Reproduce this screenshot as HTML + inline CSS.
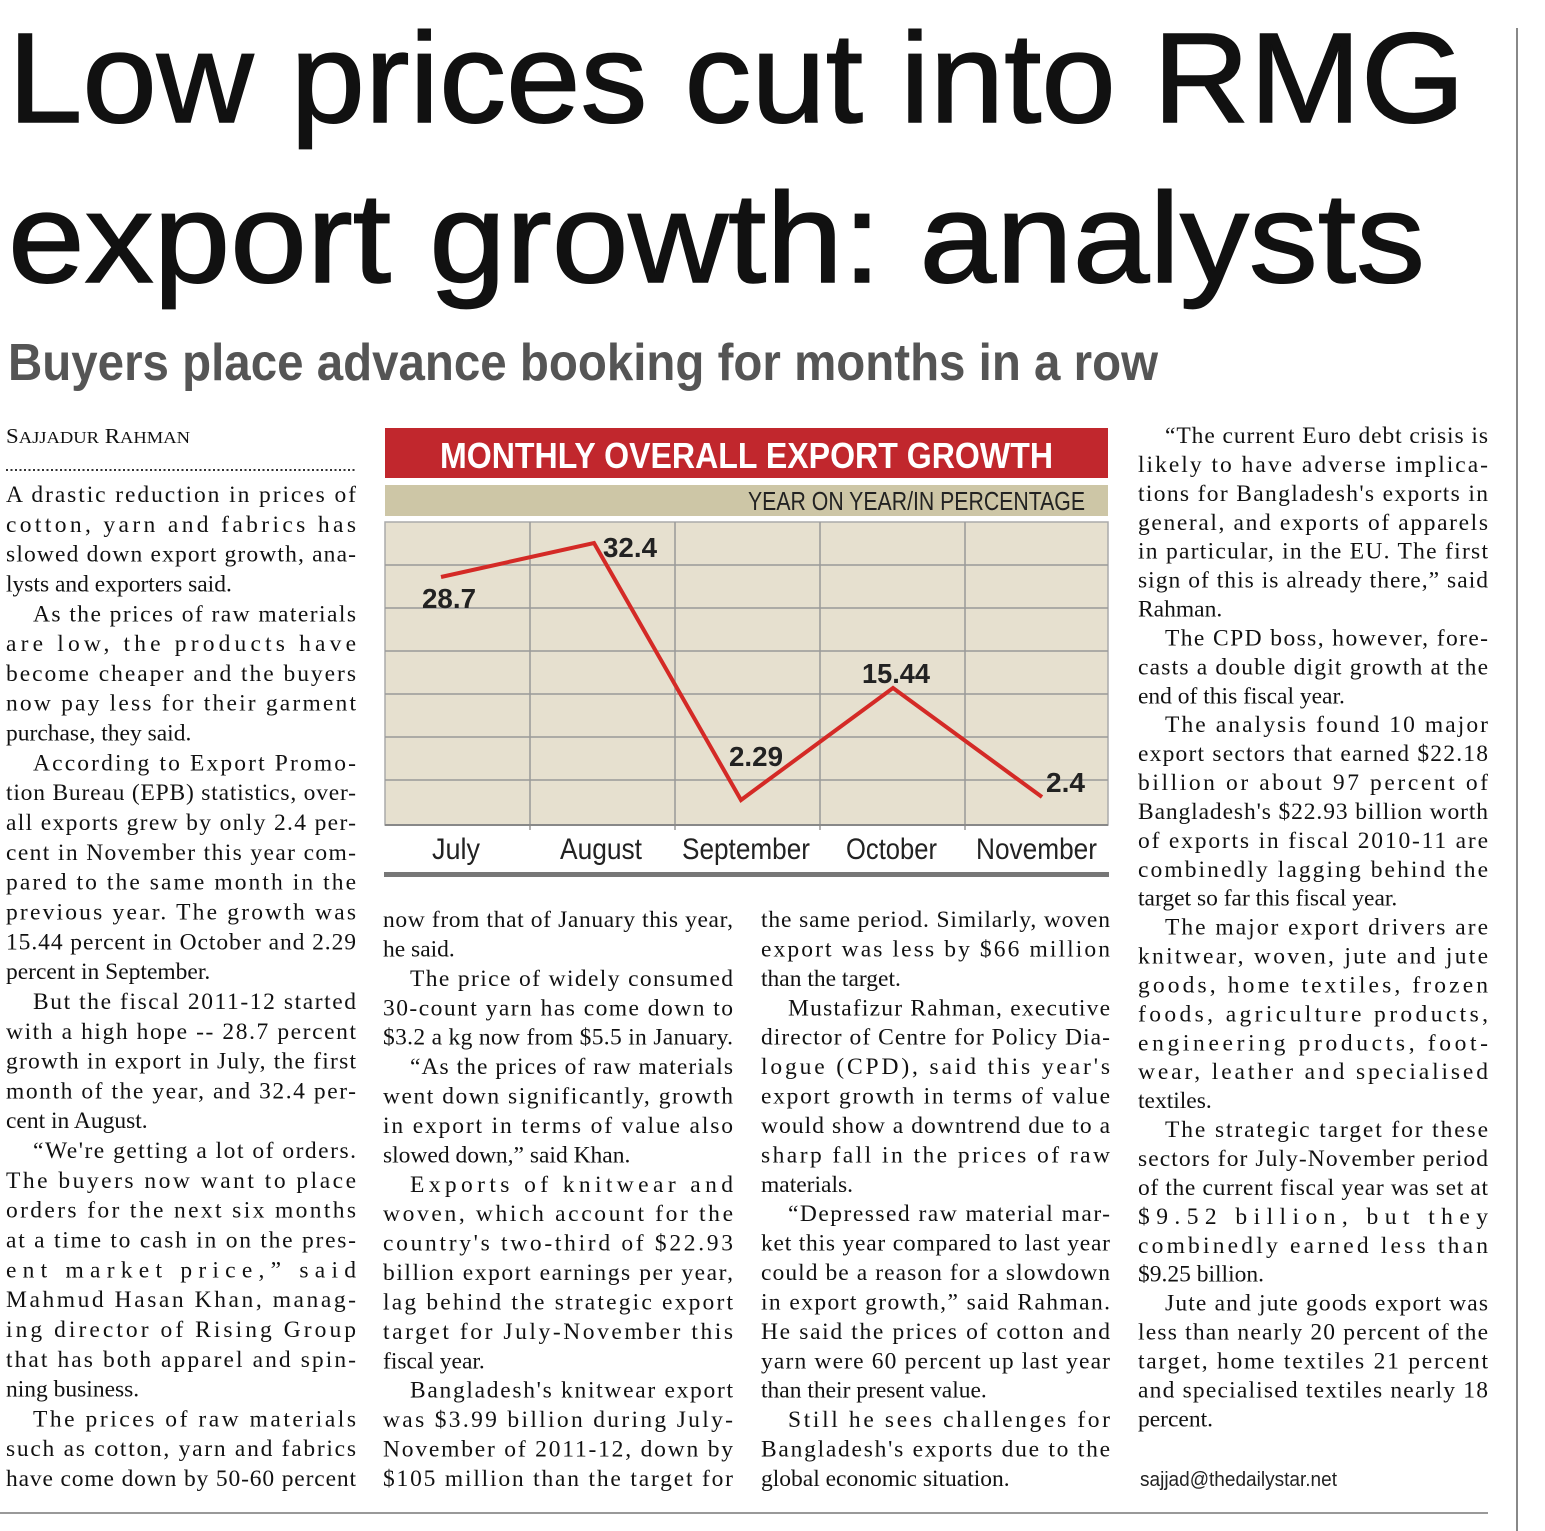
<!DOCTYPE html>
<html><head><meta charset="utf-8"><style>
html,body{margin:0;padding:0;background:#fff;}
svg{display:block;}
</style></head><body>
<svg id="s" width="1545" height="1531" viewBox="0 0 1545 1531" xmlns="http://www.w3.org/2000/svg">
<rect width="1545" height="1531" fill="#fff"/>
<line x1="1517" y1="28" x2="1517" y2="1531" stroke="#888" stroke-width="2"/>
<line x1="0" y1="1513" x2="1488" y2="1513" stroke="#999" stroke-width="2"/>
<text x="8" y="122" font-family="Liberation Sans, sans-serif" font-size="128" fill="#111" stroke="#111" stroke-width="1.5" textLength="1457" lengthAdjust="spacingAndGlyphs">Low prices cut into RMG</text>
<text x="8" y="282" font-family="Liberation Sans, sans-serif" font-size="128" fill="#111" stroke="#111" stroke-width="1.5" textLength="1417" lengthAdjust="spacingAndGlyphs">export growth: analysts</text>
<text x="8" y="380" font-family="Liberation Sans, sans-serif" font-size="52" font-weight="bold" fill="#555" textLength="1150" lengthAdjust="spacingAndGlyphs">Buyers place advance booking for months in a row</text>
<text x="6" y="443" font-family="Liberation Serif, serif" font-size="21" fill="#111" textLength="184" lengthAdjust="spacingAndGlyphs">S<tspan font-size="17">AJJADUR</tspan> R<tspan font-size="17">AHMAN</tspan></text>
<line x1="6" y1="470" x2="355" y2="470" stroke="#333" stroke-width="2" stroke-dasharray="2,2.5"/>
<rect x="385" y="428" width="723" height="50" fill="#c1272d"/>
<text x="440" y="468" font-family="Liberation Sans, sans-serif" font-size="36" font-weight="bold" fill="#fff" textLength="613" lengthAdjust="spacingAndGlyphs">MONTHLY OVERALL EXPORT GROWTH</text>
<rect x="385" y="485" width="723" height="31" fill="#cdc6a6"/>
<text x="748" y="510" font-family="Liberation Sans, sans-serif" font-size="26" fill="#222" textLength="337" lengthAdjust="spacingAndGlyphs">YEAR ON YEAR/IN PERCENTAGE</text>
<rect x="385" y="522" width="723" height="303" fill="#e6e0cf" stroke="#aaa" stroke-width="1.5"/>
<g stroke="#999" stroke-width="1.5">
<line x1="385" y1="565" x2="1108" y2="565"/><line x1="385" y1="608" x2="1108" y2="608"/>
<line x1="385" y1="651" x2="1108" y2="651"/><line x1="385" y1="694" x2="1108" y2="694"/>
<line x1="385" y1="737" x2="1108" y2="737"/><line x1="385" y1="780" x2="1108" y2="780"/>
<line x1="530" y1="522" x2="530" y2="830"/><line x1="675" y1="522" x2="675" y2="830"/>
<line x1="820" y1="522" x2="820" y2="830"/><line x1="965" y1="522" x2="965" y2="830"/>
</g>
<line x1="385" y1="825" x2="1108" y2="825" stroke="#888" stroke-width="2"/>
<polyline points="441,577 594,543 741,800 893,688 1042,797" fill="none" stroke="#d42a26" stroke-width="4"/>
<g font-family="Liberation Sans, sans-serif" font-size="28" font-weight="bold" fill="#222">
<text x="422" y="608" textLength="54" lengthAdjust="spacingAndGlyphs">28.7</text>
<text x="603" y="557" textLength="54" lengthAdjust="spacingAndGlyphs">32.4</text>
<text x="729" y="766" textLength="54" lengthAdjust="spacingAndGlyphs">2.29</text>
<text x="862" y="683" textLength="68" lengthAdjust="spacingAndGlyphs">15.44</text>
<text x="1046" y="792" textLength="39" lengthAdjust="spacingAndGlyphs">2.4</text>
</g>
<g font-family="Liberation Sans, sans-serif" font-size="30" fill="#222">
<text x="432" y="859" textLength="48" lengthAdjust="spacingAndGlyphs">July</text>
<text x="560" y="859" textLength="82" lengthAdjust="spacingAndGlyphs">August</text>
<text x="682" y="859" textLength="128" lengthAdjust="spacingAndGlyphs">September</text>
<text x="846" y="859" textLength="91" lengthAdjust="spacingAndGlyphs">October</text>
<text x="976" y="859" textLength="121" lengthAdjust="spacingAndGlyphs">November</text>
</g>
<rect x="384" y="872" width="725" height="5" fill="#777"/>
<text x="1140" y="1486" font-family="Liberation Sans, sans-serif" font-size="20" fill="#222" textLength="197" lengthAdjust="spacingAndGlyphs">sajjad@thedailystar.net</text>
<g id="body" font-family="Liberation Serif, serif" font-size="23.5" fill="#111"></g>
</svg>
<script>
var cols=[
{x:6,w:350,y0:495,dy:29.82,lines:[
"A drastic reduction in prices of","cotton, yarn and fabrics has","slowed down export growth, ana-","lysts and exporters said.|",
">As the prices of raw materials","are low, the products have","become cheaper and the buyers","now pay less for their garment","purchase, they said.|",
">According to Export Promo-","tion Bureau (EPB) statistics, over-","all exports grew by only 2.4 per-","cent in November this year com-","pared to the same month in the","previous year. The growth was","15.44 percent in October and 2.29","percent in September.|",
">But the fiscal 2011-12 started","with a high hope -- 28.7 percent","growth in export in July, the first","month of the year, and 32.4 per-","cent in August.|",
">“We're getting a lot of orders.","The buyers now want to place","orders for the next six months","at a time to cash in on the pres-","ent market price,” said","Mahmud Hasan Khan, manag-","ing director of Rising Group","that has both apparel and spin-","ning business.|",
">The prices of raw materials","such as cotton, yarn and fabrics","have come down by 50-60 percent"]},
{x:383,w:350,y0:920,dy:29.42,lines:[
"now from that of January this year,","he said.|",
">The price of widely consumed","30-count yarn has come down to","$3.2 a kg now from $5.5 in January.",
">“As the prices of raw materials","went down significantly, growth","in export in terms of value also","slowed down,” said Khan.|",
">Exports of knitwear and","woven, which account for the","country's two-third of $22.93","billion export earnings per year,","lag behind the strategic export","target for July-November this","fiscal year.|",
">Bangladesh's knitwear export","was $3.99 billion during July-","November of 2011-12, down by","$105 million than the target for"]},
{x:761,w:349,y0:920,dy:29.42,lines:[
"the same period. Similarly, woven","export was less by $66 million","than the target.|",
">Mustafizur Rahman, executive","director of Centre for Policy Dia-","logue (CPD), said this year's","export growth in terms of value","would show a downtrend due to a","sharp fall in the prices of raw","materials.|",
">“Depressed raw material mar-","ket this year compared to last year","could be a reason for a slowdown","in export growth,” said Rahman.","He said the prices of cotton and","yarn were 60 percent up last year","than their present value.|",
">Still he sees challenges for","Bangladesh's exports due to the","global economic situation.|"]},
{x:1138,w:350,y0:436,dy:28.92,lines:[
">“The current Euro debt crisis is","likely to have adverse implica-","tions for Bangladesh's exports in","general, and exports of apparels","in particular, in the EU. The first","sign of this is already there,” said","Rahman.|",
">The CPD boss, however, fore-","casts a double digit growth at the","end of this fiscal year.|",
">The analysis found 10 major","export sectors that earned $22.18","billion or about 97 percent of","Bangladesh's $22.93 billion worth","of exports in fiscal 2010-11 are","combinedly lagging behind the","target so far this fiscal year.|",
">The major export drivers are","knitwear, woven, jute and jute","goods, home textiles, frozen","foods, agriculture products,","engineering products, foot-","wear, leather and specialised","textiles.|",
">The strategic target for these","sectors for July-November period","of the current fiscal year was set at","$9.52 billion, but they","combinedly earned less than","$9.25 billion.|",
">Jute and jute goods export was","less than nearly 20 percent of the","target, home textiles 21 percent","and specialised textiles nearly 18","percent.|"]}
];
var g=document.getElementById('body'),NS='http://www.w3.org/2000/svg';
cols.forEach(function(c){
 c.lines.forEach(function(l,i){
  var ind=0,just=true;
  if(l[0]=='>'){ind=27;l=l.slice(1);}
  if(l[l.length-1]=='|'){just=false;l=l.slice(0,-1);}
  var t=document.createElementNS(NS,'text');
  t.setAttribute('x',c.x+ind);
  t.setAttribute('y',(c.y0+i*c.dy+7).toFixed(1));
  t.textContent=l;
  g.appendChild(t);
  if(just){
   var w=c.w-ind;
   var nat=t.getComputedTextLength?t.getComputedTextLength():w;
   t.setAttribute('textLength',w);
   t.setAttribute('lengthAdjust',(nat>w||Math.abs(nat-w)<10)?'spacingAndGlyphs':'spacing');
  }
 });
});
</script>
</body></html>
